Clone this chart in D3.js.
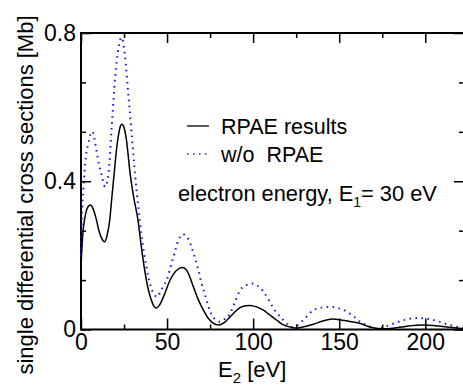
<!DOCTYPE html>
<html>
<head>
<meta charset="utf-8">
<script src="https://cdn.jsdelivr.net/npm/d3@7"></script>
<style>
  html, body { margin: 0; padding: 0; background: #fff; }
  svg { display: block; font-family: "Liberation Sans", Arial, Helvetica, sans-serif; }
</style>
</head>
<body>
<div id="chart"></div>
<script>
'use strict'

// E2 [eV] and cross section [Mb]
const e2Rpae = [0, 0.6, 1.2, 2, 3.1, 4.2, 5.4, 7, 8.9, 10.5, 11.8, 13.8, 15.2, 16.7, 17.8, 19.2, 20.5, 21.8, 23, 23.8, 25, 26.3, 27.3, 28.3, 30.5, 33.1, 35, 37, 39, 40.9, 42.5, 43.8, 45.5, 47.9, 51.7, 55.6, 58.9, 62, 65.3, 68.2, 71.1, 73.5, 76, 79.8, 83, 86.6, 89.5, 92.4, 95.5, 98.3, 102, 106, 110, 113.8, 116.5, 119.6, 124.4, 129, 135, 140, 146, 152, 157, 162.2, 167, 174, 180, 189.4, 199, 206, 212.6, 218, 222.5]
const sdcsRpae = [0.17, 0.225, 0.265, 0.295, 0.32, 0.332, 0.336, 0.326, 0.297, 0.265, 0.248, 0.237, 0.255, 0.295, 0.35, 0.418, 0.48, 0.525, 0.55, 0.554, 0.545, 0.515, 0.475, 0.43, 0.36, 0.295, 0.225, 0.16, 0.11, 0.079, 0.062, 0.058, 0.065, 0.088, 0.133, 0.16, 0.167, 0.155, 0.115, 0.08, 0.052, 0.033, 0.02, 0.012, 0.018, 0.034, 0.048, 0.059, 0.064, 0.065, 0.061, 0.052, 0.038, 0.025, 0.015, 0.009, 0.004, 0.007, 0.014, 0.022, 0.028, 0.025, 0.021, 0.016, 0.008, 0.002, 0.003, 0.009, 0.012, 0.01, 0.007, 0.004, 0.002]

const e2NoRpae = [0, 0.5, 1.4, 2.7, 4.3, 5.5, 6.6, 7.8, 9.1, 10.5, 12, 14, 15.9, 17.8, 19.8, 21.8, 23.6, 25.5, 27.5, 29.5, 31.4, 33.2, 35, 38, 40.9, 42.5, 44, 46, 47.9, 49.8, 51.8, 53.7, 56.5, 59.1, 61.5, 63.8, 66, 68.2, 70, 72.1, 74, 76, 78.5, 80.8, 83.5, 86.6, 89.5, 92.4, 95.5, 99.2, 102.5, 106, 109, 111.8, 114.7, 117.6, 120.5, 123, 126, 130, 135, 140, 145.7, 150, 154.5, 158.5, 162.2, 166.5, 171, 176, 181.6, 188, 195, 201, 206.8, 212, 216.5, 222.5]
const sdcsNoRpae = [0.2, 0.3, 0.381, 0.462, 0.503, 0.527, 0.534, 0.515, 0.48, 0.445, 0.417, 0.385, 0.418, 0.544, 0.68, 0.76, 0.788, 0.74, 0.634, 0.526, 0.418, 0.335, 0.26, 0.169, 0.11, 0.095, 0.088, 0.1, 0.118, 0.133, 0.165, 0.196, 0.24, 0.257, 0.25, 0.228, 0.195, 0.16, 0.125, 0.093, 0.063, 0.039, 0.025, 0.021, 0.028, 0.043, 0.075, 0.106, 0.118, 0.124, 0.118, 0.102, 0.08, 0.057, 0.04, 0.025, 0.012, 0.007, 0.012, 0.03, 0.052, 0.059, 0.061, 0.057, 0.048, 0.035, 0.021, 0.01, 0.003, 0.007, 0.016, 0.026, 0.031, 0.029, 0.023, 0.015, 0.009, 0.004]

const xTicks = [0, 50, 100, 150, 200]
const yTicks = [0, 0.4, 0.8]
const yTickLabels = ['0', '0.4', '0.8']

const width = 463,
    height = 386
const plotLeft = 81, plotRight = 464, plotTop = 33, plotBottom = 329.5

const svg = d3.select('#chart').append('svg')
  .attr('width', width)
  .attr('height', height)

const x = d3.scaleLinear().domain([0, 222.5]).range([plotLeft, plotRight])
const y = d3.scaleLinear().domain([0, 0.8]).range([plotBottom, plotTop])

const xMinor = d3.range(25, 225, 50)
const yMinor = d3.range(0, 0.81, 0.4 / 3).filter(v => yTicks.every(t => Math.abs(t - v) > 1e-6))

// axes: ticks point inward on all four sides
const styleAxis = (g) => {
  g.select('.domain').remove()
  g.selectAll('line').attr('stroke', '#000').attr('stroke-width', 1.5)
  g.selectAll('text').attr('fill', '#000').style('font-size', '23px')
  g.attr('font-family', null).attr('font-size', null)
}

svg.append('g')
  .attr('transform', `translate(0,${plotBottom})`)
  .call(d3.axisBottom(x).tickValues(xTicks).tickSize(-11).tickPadding(4.5))
  .call(styleAxis)
svg.append('g')
  .attr('transform', `translate(0,${plotBottom})`)
  .call(d3.axisBottom(x).tickValues(xMinor).tickSize(-5).tickFormat(''))
  .call(styleAxis)
svg.append('g')
  .attr('transform', `translate(0,${plotTop})`)
  .call(d3.axisTop(x).tickValues(xTicks).tickSize(-10).tickFormat(''))
  .call(styleAxis)
svg.append('g')
  .attr('transform', `translate(0,${plotTop})`)
  .call(d3.axisTop(x).tickValues(xMinor).tickSize(-5).tickFormat(''))
  .call(styleAxis)

svg.append('g')
  .attr('transform', `translate(${plotLeft},0)`)
  .call(d3.axisLeft(y).tickValues(yTicks).tickSize(-10).tickPadding(5)
    .tickFormat((d, i) => yTickLabels[i]))
  .call(styleAxis)
svg.append('g')
  .attr('transform', `translate(${plotLeft},0)`)
  .call(d3.axisLeft(y).tickValues(yMinor).tickSize(-5).tickFormat(''))
  .call(styleAxis)
svg.append('g')
  .attr('transform', `translate(${plotRight},0)`)
  .call(d3.axisRight(y).tickValues(yTicks).tickSize(-10).tickFormat(''))
  .call(styleAxis)
svg.append('g')
  .attr('transform', `translate(${plotRight},0)`)
  .call(d3.axisRight(y).tickValues(yMinor).tickSize(-5).tickFormat(''))
  .call(styleAxis)

// frame
svg.append('rect')
  .attr('x', plotLeft).attr('y', plotTop)
  .attr('width', plotRight - plotLeft).attr('height', plotBottom - plotTop)
  .attr('fill', 'none').attr('stroke', '#000').attr('stroke-width', 2)

const line = d3.line()
  .x(d => x(d[0]))
  .y(d => y(d[1]))
  .curve(d3.curveMonotoneX)

svg.append('path')
  .datum(d3.zip(e2NoRpae, sdcsNoRpae))
  .attr('d', line)
  .attr('fill', 'none')
  .attr('stroke', '#1a1aff')
  .attr('stroke-width', 2)
  .attr('stroke-dasharray', '1.6,4.4')

svg.append('path')
  .datum(d3.zip(e2Rpae, sdcsRpae))
  .attr('d', line)
  .attr('fill', 'none')
  .attr('stroke', '#000')
  .attr('stroke-width', 1.5)

// legend
const legend = svg.append('g').style('font-size', '21.5px')
legend.append('line')
  .attr('x1', 187).attr('x2', 209).attr('y1', 126).attr('y2', 126)
  .attr('stroke', '#000').attr('stroke-width', 1.3)
legend.append('text').attr('x', 221).attr('y', 134).text('RPAE results')
legend.append('line')
  .attr('x1', 187).attr('x2', 210).attr('y1', 154).attr('y2', 154)
  .attr('stroke', '#1a1aff').attr('stroke-width', 1.6)
  .attr('stroke-dasharray', '1.5,4.5')
legend.append('text').attr('x', 221).attr('y', 161.5)
  .style('white-space', 'pre').text('w/o  RPAE')

const note = svg.append('text')
  .attr('x', 178).attr('y', 201)
  .style('font-size', '21.8px')
note.append('tspan').text('electron energy, E')
note.append('tspan').attr('dy', 6).style('font-size', '14px').text('1')
note.append('tspan').attr('dy', -6).text('= 30 eV')

// axis titles
const xTitle = svg.append('text')
  .attr('x', 218).attr('y', 377)
  .style('font-size', '22px')
xTitle.append('tspan').text('E')
xTitle.append('tspan').attr('dy', 6).style('font-size', '15px').text('2')
xTitle.append('tspan').attr('dy', -6).style('white-space', 'pre').text(' [eV]')

svg.append('text')
  .attr('transform', 'translate(33,195) rotate(-90)')
  .attr('text-anchor', 'middle')
  .style('font-size', '22px')
  .text('single differential cross sections [Mb]')
</script>
</body>
</html>
